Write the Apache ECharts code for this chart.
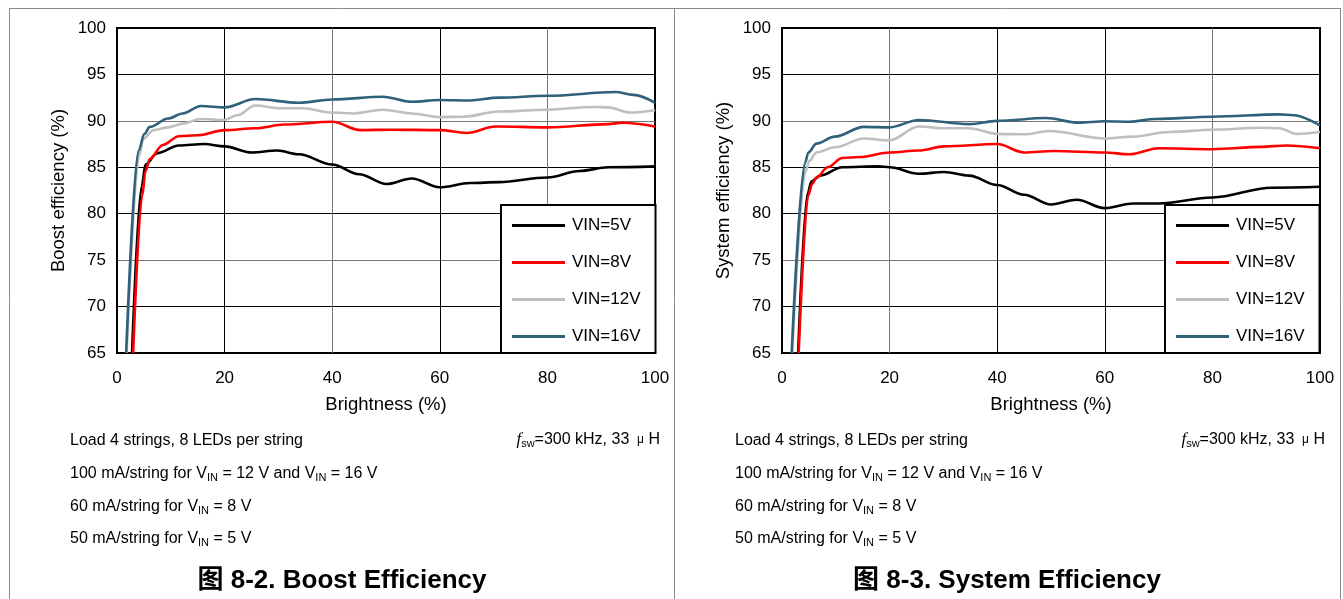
<!DOCTYPE html>
<html>
<head>
<meta charset="utf-8">
<script src="https://cdn.jsdelivr.net/npm/echarts@6/dist/echarts.min.js"></script>
<style>
html,body{margin:0;padding:0;background:#fff;}
#c{width:1343px;height:599px;}
</style>
</head>
<body>
<div id="c"></div>
<script>
// ---- data (x = brightness %, y = efficiency %) ----
const seriesNames = ['VIN=5V', 'VIN=8V', 'VIN=12V', 'VIN=16V'];
const xTicks = [0, 20, 40, 60, 80, 100];
const yTicks = [65, 70, 75, 80, 85, 90, 95, 100];

const boost5 = [[2.8,65],[4.6,83.0],[5.3,85.3],[7.4,86.5],[11.5,87.35],[16.2,87.5],[20,87.25],[25,86.6],[29.8,86.8],[33.8,86.4],[40,85.3],[45,84.25],[50.1,83.2],[54.8,83.8],[60,82.85],[65.6,83.3],[71,83.4],[80,83.9],[86,84.6],[91.3,85.0],[100,85.1]];
const boost8 = [[3.0,65],[4.7,82.0],[5.3,84.6],[6.1,85.9],[8.5,87.4],[11.5,88.35],[14.9,88.45],[20,89.0],[25.7,89.2],[31.1,89.6],[40,89.9],[45.3,89.0],[50.7,89.05],[60,89.0],[65,88.7],[70.4,89.4],[80,89.3],[91.3,89.65],[94,89.8],[100,89.4]];
const boost12 = [[1.8,65],[4.1,86.2],[4.9,88.1],[6.8,89.0],[9.5,89.3],[12.2,89.7],[15.6,90.2],[20,90.1],[22.3,90.6],[25.7,91.65],[30.4,91.35],[34.5,91.35],[40,90.9],[44,90.8],[49.4,91.2],[54.8,90.8],[60,90.4],[64.3,90.45],[71,91.0],[80,91.2],[88.6,91.5],[91.3,91.45],[95.4,90.9],[100,91.15]];
const boost16 = [[1.7,65],[4.0,86.8],[5.1,88.6],[6.1,89.35],[9.5,90.25],[12.2,90.8],[15.6,91.6],[20,91.45],[25.7,92.35],[33.8,91.95],[40,92.3],[49.4,92.6],[54.8,92.05],[60,92.25],[65.6,92.2],[71,92.5],[80,92.7],[92.7,93.1],[96,92.8],[100,91.95]];

const sys5 = [[3.0,65],[4.8,82.3],[5.5,83.5],[7.1,84.1],[11.2,85.0],[17.9,85.1],[20,85.0],[25.4,84.3],[30.1,84.5],[34.8,84.1],[40,83.1],[45,82.05],[50,81.0],[54.8,81.5],[60,80.6],[65.3,81.1],[70,81.1],[80,81.75],[91,82.8],[100,82.9]];
const sys8 = [[3.1,65],[4.9,82.0],[5.6,83.2],[6.4,83.9],[8.5,85.0],[11.2,86.0],[14.5,86.1],[20,86.6],[25.4,86.8],[30.1,87.25],[40,87.5],[45,86.6],[50.4,86.75],[60,86.6],[64.6,86.4],[70,87.05],[80,86.95],[89,87.2],[93.7,87.35],[100,87.05]];
const sys12 = [[1.9,65],[4.4,84.6],[5.1,85.7],[6.4,86.6],[9.8,87.15],[15.2,88.1],[20,87.9],[25.4,89.4],[30.1,89.2],[34.8,89.2],[40,88.6],[45,88.55],[49.7,88.9],[60,88.1],[65.3,88.3],[72,88.8],[80,89.05],[89,89.25],[92.4,89.2],[95.7,88.6],[100,88.8]];
const sys16 = [[1.8,65],[4.3,85.5],[4.9,86.6],[6.4,87.55],[9.8,88.3],[15.2,89.35],[20,89.3],[25.4,90.1],[34.8,89.65],[40,90.0],[49.1,90.3],[55.1,89.8],[60,89.95],[64.6,89.9],[69.4,90.2],[80,90.45],[92.4,90.7],[95.1,90.6],[100,89.5]];

const boostData = [boost5, boost8, boost12, boost16];
const sysData = [sys5, sys8, sys12, sys16];
const colors = ['#000000', '#ff0000', '#bfbfbf', '#2f6179'];

const FONT = '"Liberation Sans", Arial, "Noto Sans CJK SC", sans-serif';

// ---- chart ----
const chart = echarts.init(document.getElementById('c'), null, {renderer: 'canvas'});

const gridDefs = [
  {left: 117, top: 28, width: 538, height: 325},
  {left: 782, top: 28, width: 538, height: 325}
];
const yNames = ['Boost efficiency (%)', 'System efficiency (%)'];
const xGridColors = [['#000','#000','#777','#000','#777','#000'], ['#000','#777','#000','#000','#777','#000']];
const yGridColors = ['#000','#000','#777','#000','#000','#777','#000','#000'];

const grids = gridDefs.map(g => Object.assign({show: true, borderColor: '#000', borderWidth: 2, backgroundColor: 'transparent', containLabel: false}, g));

const xAxes = gridDefs.map((g, i) => ({
  type: 'value', gridIndex: i, min: xTicks[0], max: xTicks[xTicks.length-1], interval: 20,
  name: 'Brightness (%)', nameLocation: 'middle', nameGap: 43,
  nameTextStyle: {fontFamily: FONT, fontSize: 18.5, color: '#000'},
  axisLine: {show: false}, axisTick: {show: false},
  axisLabel: {fontFamily: FONT, fontSize: 17, color: '#000', margin: 17},
  splitLine: {show: true, lineStyle: {color: xGridColors[i], width: 1}}
}));
const yAxes = gridDefs.map((g, i) => ({
  type: 'value', gridIndex: i, min: yTicks[0], max: yTicks[yTicks.length-1], interval: 5,
  name: yNames[i], nameLocation: 'middle', nameGap: 49, nameRotate: 90,
  nameTextStyle: {fontFamily: FONT, fontSize: 18.5, color: '#000'},
  axisLine: {show: false}, axisTick: {show: false},
  axisLabel: {fontFamily: FONT, fontSize: 17, color: '#000', margin: 11},
  splitLine: {show: true, lineStyle: {color: yGridColors, width: 1}}
}));

const series = [];
[boostData, sysData].forEach((set, gi) => {
  set.forEach((d, si) => {
    series.push({
      type: 'line', name: seriesNames[si], xAxisIndex: gi, yAxisIndex: gi,
      data: d, symbol: 'none', smooth: 0.35, smoothMonotone: 'x',
      lineStyle: {color: colors[si], width: 2.6}, itemStyle: {color: colors[si]},
      z: 3 + si, clip: true
    });
  });
});

const legends = [501, 1165].map(l => ({
  left: l, top: 205, orient: 'vertical', icon: 'rect',
  backgroundColor: '#fff', borderColor: '#000', borderWidth: 2, borderRadius: 0,
  padding: [12, 15, 8, 11], itemGap: 20, itemWidth: 53, itemHeight: 3,
  selectedMode: false, data: seriesNames,
  textStyle: {fontFamily: FONT, fontSize: 17, color: '#000', padding: [0, 0, 0, 2]}
}));

function notes(x0, xr, caption, cx) {
  const base = {fontFamily: FONT, fontSize: 16, fill: '#000'};
  const rich = {
    n: {fontFamily: FONT, fontSize: 16, color: '#000', lineHeight: 20},
    s: {fontFamily: FONT, fontSize: 11, color: '#000', padding: [8, 0, 0, 0]},
    f: {fontFamily: '"Liberation Serif", serif', fontStyle: 'italic', fontSize: 17, color: '#000'},
    m: {fontFamily: FONT, fontSize: 12, color: '#000'}
  };
  return [
    {type: 'text', left: x0, top: 433, style: Object.assign({text: 'Load 4 strings, 8 LEDs per string'}, base)},
    {type: 'text', right: 1343 - xr, top: 431, style: Object.assign({text: '{f|f}{s|sw}{n|=300 kHz, 33 }{m| μ}{n| H}', rich: rich}, base)},
    {type: 'text', left: x0, top: 466, style: Object.assign({text: '{n|100 mA/string for V}{s|IN}{n| = 12 V and V}{s|IN}{n| = 16 V}', rich: rich}, base)},
    {type: 'text', left: x0, top: 499, style: Object.assign({text: '{n|60 mA/string for V}{s|IN}{n| = 8 V}', rich: rich}, base)},
    {type: 'text', left: x0, top: 531, style: Object.assign({text: '{n|50 mA/string for V}{s|IN}{n| = 5 V}', rich: rich}, base)},
    {type: 'text', x: cx, y: 581, style: {text: caption, fontFamily: FONT, fontSize: 26, fontWeight: 'bold', fill: '#000', align: 'center', verticalAlign: 'middle'}}
  ];
}

const frame = [
  {type: 'line', shape: {x1: 9, y1: 8.5, x2: 1340, y2: 8.5}, style: {stroke: '#8a8a8a', lineWidth: 1}},
  {type: 'line', shape: {x1: 9.5, y1: 8, x2: 9.5, y2: 599}, style: {stroke: '#8a8a8a', lineWidth: 1}},
  {type: 'line', shape: {x1: 674.5, y1: 8, x2: 674.5, y2: 599}, style: {stroke: '#8a8a8a', lineWidth: 1}},
  {type: 'line', shape: {x1: 1340.5, y1: 8, x2: 1340.5, y2: 599}, style: {stroke: '#8a8a8a', lineWidth: 1}}
];

chart.setOption({
  backgroundColor: '#fff',
  animation: false,
  grid: grids,
  xAxis: xAxes,
  yAxis: yAxes,
  legend: legends,
  series: series,
  graphic: frame.concat(notes(70, 660, '图 8-2. Boost Efficiency', 342), notes(735, 1325, '图 8-3. System Efficiency', 1007))
});
</script>
</body>
</html>
